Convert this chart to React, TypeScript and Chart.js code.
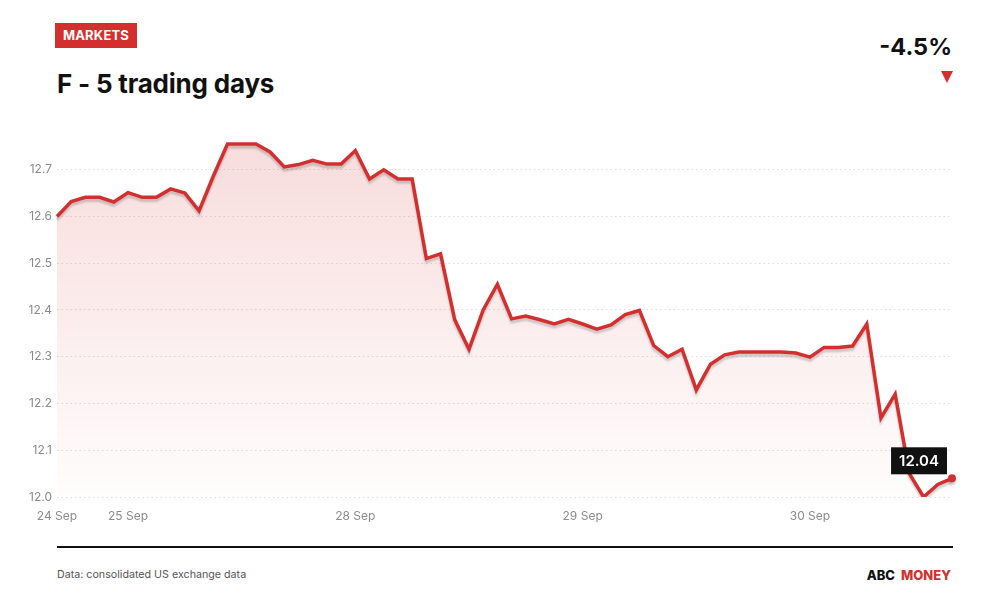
import { useEffect, useRef } from 'react';
import { Chart, registerables } from 'chart.js';

Chart.register(...registerables);

// intraday prices, 64 samples over five trading days
const prices = [
  12.60, 12.632, 12.641, 12.641, 12.631, 12.651, 12.641, 12.641, 12.659, 12.65,
  12.612, 12.686, 12.755, 12.755, 12.755, 12.738, 12.706, 12.711, 12.72, 12.712,
  12.712, 12.741, 12.68, 12.70, 12.68, 12.68, 12.51, 12.52, 12.379, 12.316,
  12.40, 12.455, 12.381, 12.387, 12.379, 12.37, 12.38, 12.37, 12.359, 12.368,
  12.39, 12.399, 12.324, 12.30, 12.316, 12.229, 12.284, 12.304, 12.31, 12.31,
  12.31, 12.31, 12.308, 12.299, 12.32, 12.32, 12.323, 12.37, 12.169, 12.22,
  12.05, 12.0, 12.027, 12.04,
];
const dayTicks = ['24 Sep', '25 Sep', '28 Sep', '29 Sep', '30 Sep'];
const dayTickIndex = [0, 5, 21, 37, 53];
const yMin = 12.0;
const yMax = 12.77;

const RED = '#D32F2F';
const GREY = '#8a8a8a';
const FONT = 'Inter, "Noto Sans", sans-serif';

const labels = prices.map((_, i) => {
  const k = dayTickIndex.indexOf(i);
  return k >= 0 ? dayTicks[k] : '';
});

const shadowPlugin = {
  id: 'lineShadow',
  beforeDatasetDraw(chart: any) {
    const c = chart.ctx;
    c.save();
    c.shadowColor = 'rgba(0,0,0,0.18)';
    c.shadowBlur = 2;
    c.shadowOffsetY = 3;
  },
  afterDatasetDraw(chart: any) {
    chart.ctx.restore();
  },
};

const lastLabelPlugin = {
  id: 'lastLabel',
  afterDatasetsDraw(chart: any) {
    const meta = chart.getDatasetMeta(0);
    const pt = meta.data[meta.data.length - 1];
    if (!pt) return;
    const c = chart.ctx;
    const text = prices[prices.length - 1].toFixed(2);
    c.save();
    c.font = `600 15px ${FONT}`;
    const w = c.measureText(text).width + 16;
    const h = 27;
    const right = pt.x - 5;
    const bottom = pt.y - 4;
    c.fillStyle = '#111';
    c.fillRect(right - w, bottom - h, w, h);
    c.fillStyle = '#fff';
    c.textAlign = 'center';
    c.textBaseline = 'middle';
    c.fillText(text, right - w / 2, bottom - h / 2 + 1);
    c.restore();
  },
};

function PriceChart() {
  const canvasRef = useRef<HTMLCanvasElement>(null);

  useEffect(() => {
    if (!canvasRef.current) return;
    const chart = new Chart(canvasRef.current, {
      type: 'line',
      data: {
        labels,
        datasets: [
          {
            data: prices,
            borderColor: RED,
            borderWidth: 3.5,
            tension: 0,
            fill: 'start',
            backgroundColor: (ctx: any) => {
              const area = ctx.chart.chartArea;
              if (!area) return 'rgba(211,47,47,0.1)';
              const g = ctx.chart.ctx.createLinearGradient(0, area.top, 0, area.bottom);
              g.addColorStop(0, 'rgba(211,47,47,0.17)');
              g.addColorStop(1, 'rgba(211,47,47,0.01)');
              return g;
            },
            pointRadius: prices.map((_, i) => (i === prices.length - 1 ? 4 : 0)),
            pointBackgroundColor: RED,
            pointBorderColor: RED,
            pointBorderWidth: 0,
          },
        ],
      },
      options: {
        animation: false,
        responsive: false,
        events: [],
        layout: { padding: { top: 17, right: 48, left: 0, bottom: 0 } },
        plugins: { legend: { display: false }, tooltip: { enabled: false } },
        scales: {
          x: {
            grid: { display: false },
            border: { display: false },
            ticks: {
              autoSkip: false,
              maxRotation: 0,
              padding: 4,
              color: GREY,
              font: { family: FONT, size: 12 },
            },
            afterFit: (s: any) => { s.height = 25; },
          },
          y: {
            min: yMin,
            max: yMax,
            border: { display: false, dash: [1.5, 3] },
            grid: { color: '#dedede', lineWidth: 1, drawTicks: false },
            ticks: {
              stepSize: 0.1,
              padding: 5,
              color: GREY,
              font: { family: FONT, size: 12 },
              callback: (v: any) => Number(v).toFixed(1),
            },
            afterBuildTicks: (s: any) => {
              s.ticks = s.ticks.filter((t: any) => Math.abs(t.value * 10 - Math.round(t.value * 10)) < 1e-6);
            },
            afterFit: (s: any) => { s.width = 57; },
          },
        },
      },
      plugins: [shadowPlugin, lastLabelPlugin],
    } as any);
    return () => { chart.destroy(); };
  }, []);

  return <canvas ref={canvasRef} width={1000} height={402} style={{ position: 'absolute', left: 0, top: 120, width: 1000, height: 402 }} />;
}

export default function App() {
  return (
    <div style={{ position: 'absolute', left: 0, top: 0, width: 1000, height: 600, background: '#fff', fontFamily: FONT, overflow: 'hidden' }}>
      <div style={{ position: 'absolute', left: 55, top: 23, width: 82, height: 25, background: RED, color: '#fff', fontWeight: 700, fontSize: 13, lineHeight: '25px', textAlign: 'center', letterSpacing: 0.2 }}>
        MARKETS
      </div>
      <div style={{ position: 'absolute', left: 57, top: 68, fontSize: 26, fontWeight: 700, color: '#111', lineHeight: '32px', letterSpacing: -0.2 }}>
        F - 5 trading days
      </div>
      <div style={{ position: 'absolute', right: 48, top: 32, fontSize: 23.5, fontWeight: 700, color: '#111', lineHeight: '30px' }}>
        -4.5%
      </div>
      <div style={{ position: 'absolute', left: 941, top: 71, width: 0, height: 0, borderLeft: '6px solid transparent', borderRight: '6px solid transparent', borderTop: `12px solid ${RED}` }} />
      <PriceChart />
      <div style={{ position: 'absolute', left: 57, top: 546, width: 896, height: 2, background: '#111' }} />
      <div style={{ position: 'absolute', left: 57, top: 567, fontSize: 10.7, color: '#555', lineHeight: '16px' }}>
        Data: consolidated US exchange data
      </div>
      <div style={{ position: 'absolute', right: 49, top: 566, fontSize: 13, fontWeight: 800, lineHeight: '18px' }}>
        <span style={{ color: '#111' }}>ABC</span>
        <span style={{ color: RED, marginLeft: 6 }}>MONEY</span>
      </div>
    </div>
  );
}
